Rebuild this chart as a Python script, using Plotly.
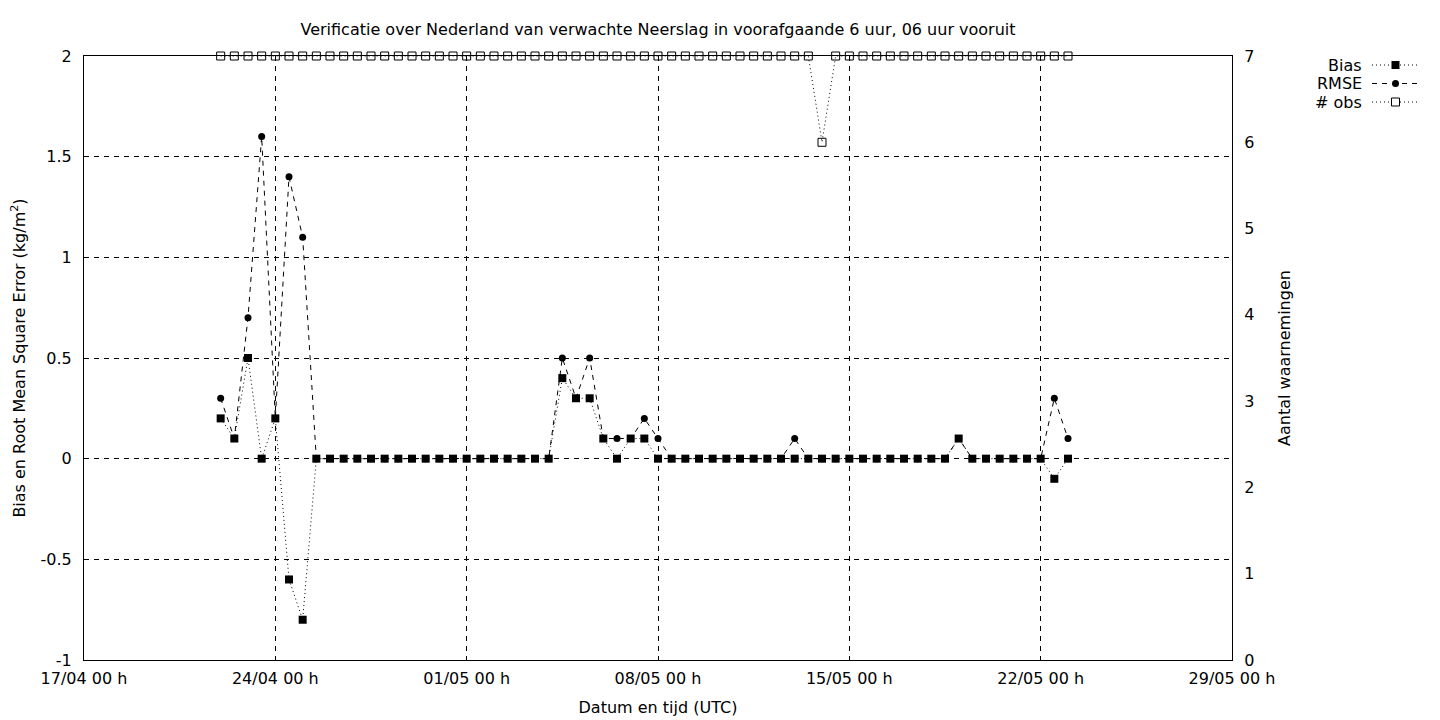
import pandas as pd
import plotly.graph_objects as go

# ---- data ----
times = pd.date_range("2024-04-22 00:00", periods=63, freq="12h")

bias = [0.2, 0.1, 0.5, 0.0, 0.2, -0.6, -0.8,
        0, 0, 0, 0, 0, 0, 0, 0, 0, 0, 0, 0, 0, 0, 0, 0, 0, 0,
        0.4, 0.3, 0.3, 0.1, 0.0, 0.1, 0.1, 0.0,
        0, 0, 0, 0, 0, 0, 0, 0, 0, 0, 0, 0, 0, 0, 0, 0, 0, 0, 0, 0, 0,
        0.1,
        0, 0, 0, 0, 0, 0,
        -0.1, 0.0]

rmse = [0.3, 0.1, 0.7, 1.6, 0.2, 1.4, 1.1,
        0, 0, 0, 0, 0, 0, 0, 0, 0, 0, 0, 0, 0, 0, 0, 0, 0, 0,
        0.5, 0.3, 0.5, 0.1, 0.1, 0.1, 0.2, 0.1,
        0, 0, 0, 0, 0, 0, 0, 0, 0,
        0.1,
        0, 0, 0, 0, 0, 0, 0, 0, 0, 0, 0,
        0.1,
        0, 0, 0, 0, 0, 0,
        0.3, 0.1]

nobs = [7] * 44 + [6] + [7] * 18

series_names = ["Bias", "RMSE", "# obs"]
left_ticks = [-1, -0.5, 0, 0.5, 1, 1.5, 2]
left_labels = ["-1", "-0.5", "0", "0.5", "1", "1.5", "2"]
right_ticks = [0, 1, 2, 3, 4, 5, 6, 7]

FONT = "DejaVu Sans"
FS = 16
DOT = "1px,3px"
DASH = "5px,5px"

# plot-area geometry in figure pixels (figure is drawn with an 8px page offset)
W, H = 1440, 720
ML, MR, MT, MB = 76, 216, 48, 68
PW, PH = W - ML - MR, H - MT - MB


def px(xpix):  # screen x pixel -> paper x
    return (xpix - 8 - ML) / PW


def py(ypix):  # screen y pixel -> paper y
    return 1 - (ypix - 8 - MT) / PH


fig = go.Figure()
fig.add_trace(go.Scatter(
    x=times, y=bias, name=series_names[0], mode="lines+markers",
    line=dict(color="black", width=1, dash=DOT),
    marker=dict(symbol="square", size=8, color="black"),
))
fig.add_trace(go.Scatter(
    x=times, y=rmse, name=series_names[1], mode="lines+markers",
    line=dict(color="black", width=1, dash=DASH),
    marker=dict(symbol="circle", size=7, color="black"),
))
fig.add_trace(go.Scatter(
    x=times, y=nobs, name=series_names[2], mode="lines+markers", yaxis="y2",
    line=dict(color="black", width=1, dash=DOT),
    marker=dict(symbol="square-open", size=8, color="black", line=dict(width=1)),
    cliponaxis=False,
))

# ---- gnuplot-style legend (text right-aligned, sample to the right) ----
shapes = []
annotations = []
rows_y = [65, 83.5, 102]
dashes = [DOT, DASH, DOT]
for name, yy, dsh, kind in zip(series_names, rows_y, dashes, ["sq", "ci", "sqo"]):
    annotations.append(dict(
        x=px(1364), y=py(yy), xref="paper", yref="paper", text=name,
        showarrow=False, xanchor="right", yanchor="middle",
        font=dict(family=FONT, size=FS, color="black")))
    shapes.append(dict(type="line", xref="paper", yref="paper",
                       x0=px(1372), x1=px(1419), y0=py(yy), y1=py(yy),
                       line=dict(color="black", width=1, dash=dsh)))
    cx = 1395.5
    if kind == "sq":
        shapes.append(dict(type="rect", xref="paper", yref="paper",
                           x0=px(cx - 4), x1=px(cx + 4), y0=py(yy - 4), y1=py(yy + 4),
                           fillcolor="black", line=dict(width=0)))
    elif kind == "ci":
        shapes.append(dict(type="circle", xref="paper", yref="paper",
                           x0=px(cx - 3.5), x1=px(cx + 3.5), y0=py(yy - 3.5), y1=py(yy + 3.5),
                           fillcolor="black", line=dict(width=0)))
    else:
        shapes.append(dict(type="rect", xref="paper", yref="paper",
                           x0=px(cx - 4), x1=px(cx + 4), y0=py(yy - 4), y1=py(yy + 4),
                           fillcolor="white", line=dict(color="black", width=1)))

fig.update_layout(
    width=W, height=H,
    margin=dict(l=ML, r=MR, t=MT, b=MB, autoexpand=False),
    paper_bgcolor="white", plot_bgcolor="white",
    font=dict(family=FONT, size=FS, color="black"),
    title=dict(text="Verificatie over Nederland van verwachte Neerslag in voorafgaande 6 uur, 06 uur vooruit",
               x=0.5, xref="paper", xanchor="center", y=1 - 21 / H, yanchor="middle",
               font=dict(size=FS)),
    showlegend=False,
    shapes=shapes,
    annotations=annotations,
    xaxis=dict(
        type="date",
        range=["2024-04-17 00:00", "2024-05-29 00:00"],
        tick0="2024-04-17 00:00", dtick=7 * 24 * 3600 * 1000,
        tickformat="%d/%m %H h",
        showgrid=True, gridcolor="black", gridwidth=1, griddash=DASH,
        showline=True, linecolor="black", linewidth=1, mirror=True,
        ticks="", zeroline=False, ticklabelstandoff=4, automargin=False,
        tickfont=dict(size=FS),
        title=dict(text="Datum en tijd (UTC)", standoff=14, font=dict(size=FS)),
    ),
    yaxis=dict(
        range=[-1, 2], tickvals=left_ticks, ticktext=left_labels,
        showgrid=True, gridcolor="black", gridwidth=1, griddash=DASH,
        showline=True, linecolor="black", linewidth=1, mirror=False,
        ticks="", zeroline=False, ticklabelstandoff=8, automargin=False,
        tickfont=dict(size=FS),
        title=dict(text="Bias en Root Mean Square Error (kg/m<sup>2</sup>)", standoff=11,
                   font=dict(size=FS)),
    ),
    yaxis2=dict(
        range=[0, 7], tickvals=right_ticks, overlaying="y", side="right",
        showgrid=False, showline=True, linecolor="black", linewidth=1,
        ticks="", zeroline=False, ticklabelstandoff=8, automargin=False,
        tickfont=dict(size=FS),
        title=dict(text="Aantal waarnemingen", standoff=25, font=dict(size=FS)),
    ),
)

fig.write_html("out.html")
